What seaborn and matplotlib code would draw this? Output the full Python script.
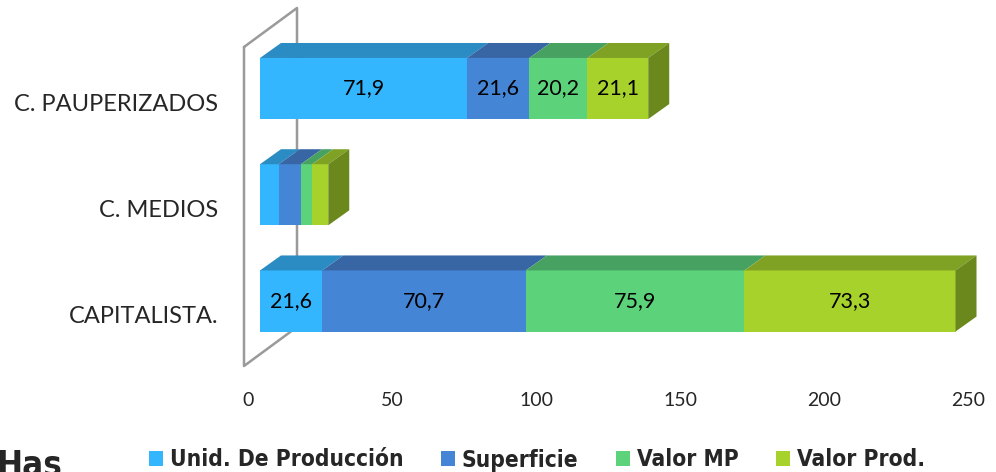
import numpy as np
import pandas as pd
import seaborn as sns
import matplotlib.pyplot as plt
from matplotlib.patches import Polygon, Patch
from matplotlib.transforms import ScaledTranslation


# -----------------------------
# DATA
# -----------------------------
categories = ["C. PAUPERIZADOS", "C. MEDIOS", "CAPITALISTA."]
series_names = ["Unid. De Producción", "Superficie", "Valor MP", "Valor Prod."]

unid_prod = [71.9, 6.5, 21.6]
superficie = [21.6, 7.7, 70.7]
valor_mp = [20.2, 3.9, 75.9]
valor_prod = [21.1, 5.6, 73.3]

x_ticks = [0, 50, 100, 150, 200, 250]

front_colors = ["#33B6FE", "#4585D5", "#5CD37B", "#A7D22C"]
top_colors = ["#2A8CC2", "#3866A5", "#47A262", "#80A224"]
side_color = "#6B881C"

df = pd.DataFrame({"cat": categories})
for name, vals in zip(series_names, [unid_prod, superficie, valor_mp, valor_prod]):
    df[name] = vals
cum = df[series_names].cumsum(axis=1)


# -----------------------------
# FIGURE
# -----------------------------
sns.set_style("white")
plt.rcParams["font.family"] = ["Lato", "DejaVu Sans"]

W, H = 996, 472
fig = plt.figure(figsize=(W / 100, H / 100), dpi=100)
ax = fig.add_axes([260 / W, 1 - 366 / H, 720 / W, 358 / H])

bar_w = 0.575

# back wall (drawn in figure pixels)
wall_x = np.array([244, 244, 297, 297, 244]) / W
wall_y = 1 - np.array([47, 366, 327, 8, 47]) / H
ax.plot(wall_x, wall_y, color="#9a9a9a", lw=1.8, transform=fig.transFigure,
        clip_on=False, zorder=0)

# stacked front faces: draw cumulative totals from longest to shortest
for i in reversed(range(len(series_names))):
    sns.barplot(x=cum[series_names[i]], y=df["cat"], order=categories,
                color=front_colors[i], saturation=1, width=bar_w,
                linewidth=0, ax=ax, zorder=3)

# 3D depth, in data units (about 21 px right, 15 px up)
dx = 21 / 2.88
dy = 15 / 106.25

for row, cat in enumerate(categories):
    y_top = row - bar_w / 2
    y_bot = row + bar_w / 2
    left = 0
    for i, name in enumerate(series_names):
        val = df.loc[row, name]
        right = left + val
        top = Polygon([(left, y_top), (right, y_top),
                       (right + dx, y_top - dy), (left + dx, y_top - dy)],
                      closed=True, facecolor=top_colors[i], lw=0, zorder=3)
        ax.add_patch(top)
        if val > 10:
            ax.text(left + val / 2, row, f"{val:.1f}".replace(".", ","),
                    ha="center", va="center", fontsize=15.5, color="black",
                    zorder=5)
        left = right
    side = Polygon([(left, y_top), (left + dx, y_top - dy),
                    (left + dx, y_bot - dy), (left, y_bot)],
                   closed=True, facecolor=side_color, lw=0, zorder=3)
    ax.add_patch(side)

ax.set_xlim(0, 250)
ax.set_ylim(2.612, -0.758)
ax.set_xlabel("")
ax.set_ylabel("")
sns.despine(ax=ax, left=True, bottom=True)
ax.grid(False)

ax.set_xticks(x_ticks)
ax.set_xticklabels([str(t) for t in x_ticks], fontsize=14)
ax.tick_params(axis="x", length=0, pad=19)
for lab in ax.get_xticklabels():
    lab.set_transform(lab.get_transform() + ScaledTranslation(-0.12, 0, fig.dpi_scale_trans))

ax.set_yticks(range(len(categories)))
ax.set_yticklabels(categories, fontsize=17)
ax.tick_params(axis="y", length=0, pad=30)
for lab in ax.get_yticklabels():
    lab.set_transform(lab.get_transform() + ScaledTranslation(0, -0.135, fig.dpi_scale_trans))

# legend
handles = [Patch(facecolor=c, edgecolor="none") for c in front_colors]
fig.legend(handles, series_names, loc="center", bbox_to_anchor=(537 / W, 1 - 460 / H),
           ncol=4, frameon=False, handlelength=0.62, handleheight=0.62,
           handletextpad=0.3, columnspacing=1.65, borderpad=0,
           prop={"family": ["DejaVu Sans"], "stretch": "condensed",
                 "weight": "bold", "size": 16.3})

# cut-off axis title at bottom left
fig.text(-0.004, -0.008, "Has", fontsize=25, fontweight="bold",
         family=["DejaVu Sans"], stretch="condensed", ha="left", va="baseline")

fig.savefig("out.png", dpi=100)
